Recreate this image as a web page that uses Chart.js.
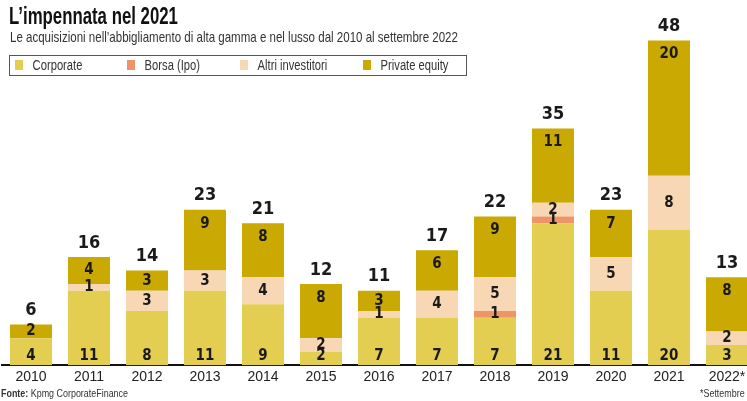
<!DOCTYPE html>
<html>
<head>
<meta charset="utf-8">
<script src="https://cdn.jsdelivr.net/npm/chart.js@4"></script>
<style>
  html, body { margin:0; padding:0; background:#fff; width:747px; height:401px; overflow:hidden; position:relative; }
  .cond { font-family:'Liberation Sans',Arial,sans-serif; transform-origin:0 0; white-space:nowrap; }
  #title { position:absolute; left:9px; top:3px; font-weight:bold; font-size:23px; color:#111; transform:scaleX(0.73); }
  #sub { position:absolute; left:10px; top:29px; font-size:14.5px; color:#333; transform:scaleX(0.795); }
  #legend { position:absolute; left:9px; top:55px; width:458px; height:21px; border:1px solid #555; box-sizing:border-box; }
  .li { position:absolute; top:1px; line-height:17px; font-size:14px; color:#333; }
  .sw { display:inline-block; width:10px; height:10px; margin-right:12px; vertical-align:0px; }
  #wrap { position:absolute; left:0; top:0; width:758px; height:401px; }
  #src { position:absolute; left:1px; top:387px; font-size:10.5px; color:#333; transform:scaleX(0.85); }
  #note { position:absolute; left:700px; top:387px; font-size:10.5px; color:#333; transform:scaleX(0.85); }
</style>
</head>
<body>
<div id="wrap"><canvas id="c" width="758" height="401"></canvas></div>
<div id="title" class="cond">L’impennata nel 2021</div>
<div id="sub" class="cond">Le acquisizioni nell’abbigliamento di alta gamma e nel lusso dal 2010 al settembre 2022</div>
<div id="legend"></div>
<div id="src" class="cond"><b>Fonte:</b> Kpmg CorporateFinance</div>
<div id="note" class="cond">*Settembre</div>
<script>
const categories = ['2010','2011','2012','2013','2014','2015','2016','2017','2018','2019','2020','2021','2022*'];
const corporate  = [4, 11, 8, 11, 9, 2, 7, 7, 7, 21, 11, 20, 3];
const borsa      = [0, 0, 0, 0, 0, 0, 0, 0, 1, 1, 0, 0, 0];
const altri      = [0, 1, 3, 3, 4, 2, 1, 4, 5, 2, 5, 8, 2];
const privateEq  = [2, 4, 3, 9, 8, 8, 3, 6, 9, 11, 7, 20, 8];
const totals     = [6, 16, 14, 23, 21, 12, 11, 17, 22, 35, 23, 48, 13];

const seriesNames  = ['Corporate', 'Borsa (Ipo)', 'Altri investitori', 'Private equity'];
const seriesColors = ['#e4ce52', '#ee9466', '#f8d7b4', '#c9a902'];
const seriesData   = [corporate, borsa, altri, privateEq];

// HTML legend built from the series
const legendX = [5, 117, 230, 353];
const lg = document.getElementById('legend');
seriesNames.forEach((n, i) => {
  const d = document.createElement('div');
  d.className = 'li cond';
  d.style.left = legendX[i] + 'px';
  d.style.transform = 'scaleX(0.8)';
  d.innerHTML = '<span class="sw" style="background:' + seriesColors[i] + '"></span>' + n;
  lg.appendChild(d);
});

const numFont = "bold 15px 'DejaVu Sans Condensed','DejaVu Sans',sans-serif";
const totFont = "bold 18px 'DejaVu Sans Condensed','DejaVu Sans',sans-serif";

const labelPlugin = {
  id: 'labels',
  afterDatasetsDraw(chart) {
    const ctx = chart.ctx;
    ctx.save();
    ctx.textAlign = 'center';
    ctx.textBaseline = 'middle';
    ctx.fillStyle = '#1a1a1a';
    ctx.font = numFont;
    chart.data.datasets.forEach((ds, di) => {
      const meta = chart.getDatasetMeta(di);
      meta.data.forEach((bar, i) => {
        const v = ds.data[i];
        if (!v) return;
        const top = Math.min(bar.y, bar.base), bot = Math.max(bar.y, bar.base);
        let y;
        if (di === 0) y = bot - 9;
        else if (di === 3) y = Math.min((top + bot) / 2, top + 14);
        else y = (top + bot) / 2;
        ctx.fillText(String(v), bar.x, y);
      });
    });
    ctx.font = totFont;
    const last = chart.getDatasetMeta(chart.data.datasets.length - 1);
    last.data.forEach((bar, i) => {
      const ys = chart.scales.y.getPixelForValue(totals[i]);
      ctx.fillText(String(totals[i]), bar.x, ys - 14);
    });
    ctx.restore();
  }
};

new Chart(document.getElementById('c'), {
  type: 'bar',
  data: {
    labels: categories,
    datasets: seriesData.map((d, i) => ({
      label: seriesNames[i],
      data: d,
      backgroundColor: seriesColors[i],
      borderWidth: 0,
      barPercentage: 0.724,
      categoryPercentage: 1.0
    }))
  },
  options: {
    responsive: false,
    animation: false,
    devicePixelRatio: 1,
    layout: { padding: { left: 2, right: 2, top: 27, bottom: 11 } },
    plugins: { legend: { display: false }, tooltip: { enabled: false } },
    scales: {
      x: {
        stacked: true,
        grid: { display: false, drawTicks: false },
        border: { display: true, color: '#111', width: 2 },
        ticks: { color: '#222', padding: 4, font: { family: "'Liberation Sans',Arial,sans-serif", size: 14 }, maxRotation: 0, autoSkip: false }
      },
      y: { stacked: true, display: false, min: 0, max: 50 }
    }
  },
  plugins: [labelPlugin]
});
</script>
</body>
</html>
